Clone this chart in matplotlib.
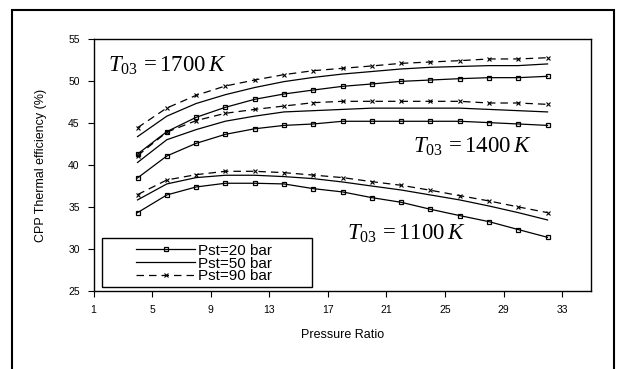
import numpy as np
import matplotlib
matplotlib.use("Agg")
import matplotlib.pyplot as plt
from matplotlib.patches import Rectangle

plt.rcParams['font.family'] = ['Liberation Sans', 'DejaVu Sans']
plt.rcParams['mathtext.fontset'] = 'custom'
plt.rcParams['mathtext.rm'] = 'Liberation Serif'
plt.rcParams['mathtext.it'] = 'Liberation Serif:italic'

# pressure ratio sample points
pr = [4, 6, 8, 10, 12, 14, 16, 18, 20, 22, 24, 26, 28, 30, 32]

# CPP thermal efficiency (%) per turbine inlet temperature and steam pressure
eff_1700_20 = [41.3, 43.96, 45.66, 46.85, 47.8, 48.43, 48.9, 49.34, 49.62, 49.93, 50.09, 50.25, 50.37, 50.37, 50.53]
eff_1700_50 = [43.37, 45.8, 47.3, 48.35, 49.2, 49.9, 50.4, 50.8, 51.1, 51.4, 51.6, 51.7, 51.8, 51.8, 52.0]
eff_1700_90 = [44.43, 46.77, 48.27, 49.38, 50.09, 50.73, 51.2, 51.48, 51.76, 52.07, 52.23, 52.39, 52.59, 52.59, 52.74]

eff_1400_20 = [38.46, 41.07, 42.57, 43.64, 44.3, 44.7, 44.87, 45.19, 45.19, 45.19, 45.19, 45.19, 45.03, 44.87, 44.7]
eff_1400_50 = [40.3, 43.0, 44.2, 45.2, 45.8, 46.3, 46.45, 46.6, 46.75, 46.75, 46.75, 46.75, 46.6, 46.45, 46.3]
eff_1400_90 = [41.1, 43.9, 45.27, 46.14, 46.6, 47.0, 47.4, 47.56, 47.56, 47.56, 47.56, 47.56, 47.36, 47.36, 47.2]

eff_1100_20 = [34.34, 36.44, 37.39, 37.83, 37.83, 37.75, 37.19, 36.8, 36.12, 35.57, 34.74, 33.99, 33.27, 32.33, 31.41]
eff_1100_50 = [35.85, 37.75, 38.5, 38.78, 38.78, 38.62, 38.38, 37.98, 37.5, 37.03, 36.44, 35.85, 35.13, 34.34, 33.47]
eff_1100_90 = [36.48, 38.22, 38.85, 39.25, 39.25, 39.09, 38.8, 38.5, 38.02, 37.59, 37.0, 36.36, 35.73, 35.02, 34.34]

labels = ['Pst=20 bar', 'Pst=50 bar', 'Pst=90 bar']

fig = plt.figure(figsize=(6.2, 3.69), dpi=100)
ax = fig.add_axes([0.151, 0.2106, 0.803, 0.6846])

sq = dict(color='black', lw=0.9, marker='s', ms=3.2, mfc='none', mew=0.9)
so = dict(color='black', lw=0.9)
da = dict(color='black', lw=0.9, ls=(0, (6, 4)), marker='x', ms=3, mew=0.8)

h1, = ax.plot(pr, eff_1700_20, **sq)
h2, = ax.plot(pr, eff_1700_50, **so)
h3, = ax.plot(pr, eff_1700_90, **da)
ax.plot(pr, eff_1400_20, **sq)
ax.plot(pr, eff_1400_50, **so)
ax.plot(pr, eff_1400_90, **da)
ax.plot(pr, eff_1100_20, **sq)
ax.plot(pr, eff_1100_50, **so)
ax.plot(pr, eff_1100_90, **da)

ax.set_xlim(1, 35)
ax.set_ylim(25, 55)
ax.set_xticks(np.arange(1, 34, 4))
ax.set_yticks(np.arange(25, 56, 5))
ax.tick_params(labelsize=7.5, length=4, width=0.8, direction='out', pad=6)
for s in ax.spines.values():
    s.set_linewidth(1.0)

ax.set_xlabel('Pressure Ratio', fontsize=9, labelpad=10)
ax.set_ylabel('CPP Thermal efficiency (%)', fontsize=9, labelpad=15)

ax.text(2.0, 51.1, r'$T_{03}\,=1700\,K$', fontsize=16.5)
ax.text(22.8, 41.4, r'$T_{03}\,=1400\,K$', fontsize=16.5)
ax.text(18.3, 31.1, r'$T_{03}\,=1100\,K$', fontsize=16.5)

# legend box drawn by hand, entries without frame
ax.add_patch(Rectangle((0.016, 0.017), 0.422, 0.194, transform=ax.transAxes,
                       fill=True, fc='white', ec='black', lw=1.0, zorder=4))
leg = ax.legend([h1, h2, h3], labels, loc='lower left', frameon=False,
                bbox_to_anchor=(0.06, -0.02), fontsize=11, labelspacing=-0.08,
                handlelength=3.8, handletextpad=0.25, borderpad=0.35)
leg.set_zorder(5)

# outer frame around the whole figure
fig.patches.append(Rectangle((0.0194, -0.05), 0.9706, 1.023, transform=fig.transFigure,
                             fill=False, ec='black', lw=1.5))

fig.savefig('out.png', dpi=100)
